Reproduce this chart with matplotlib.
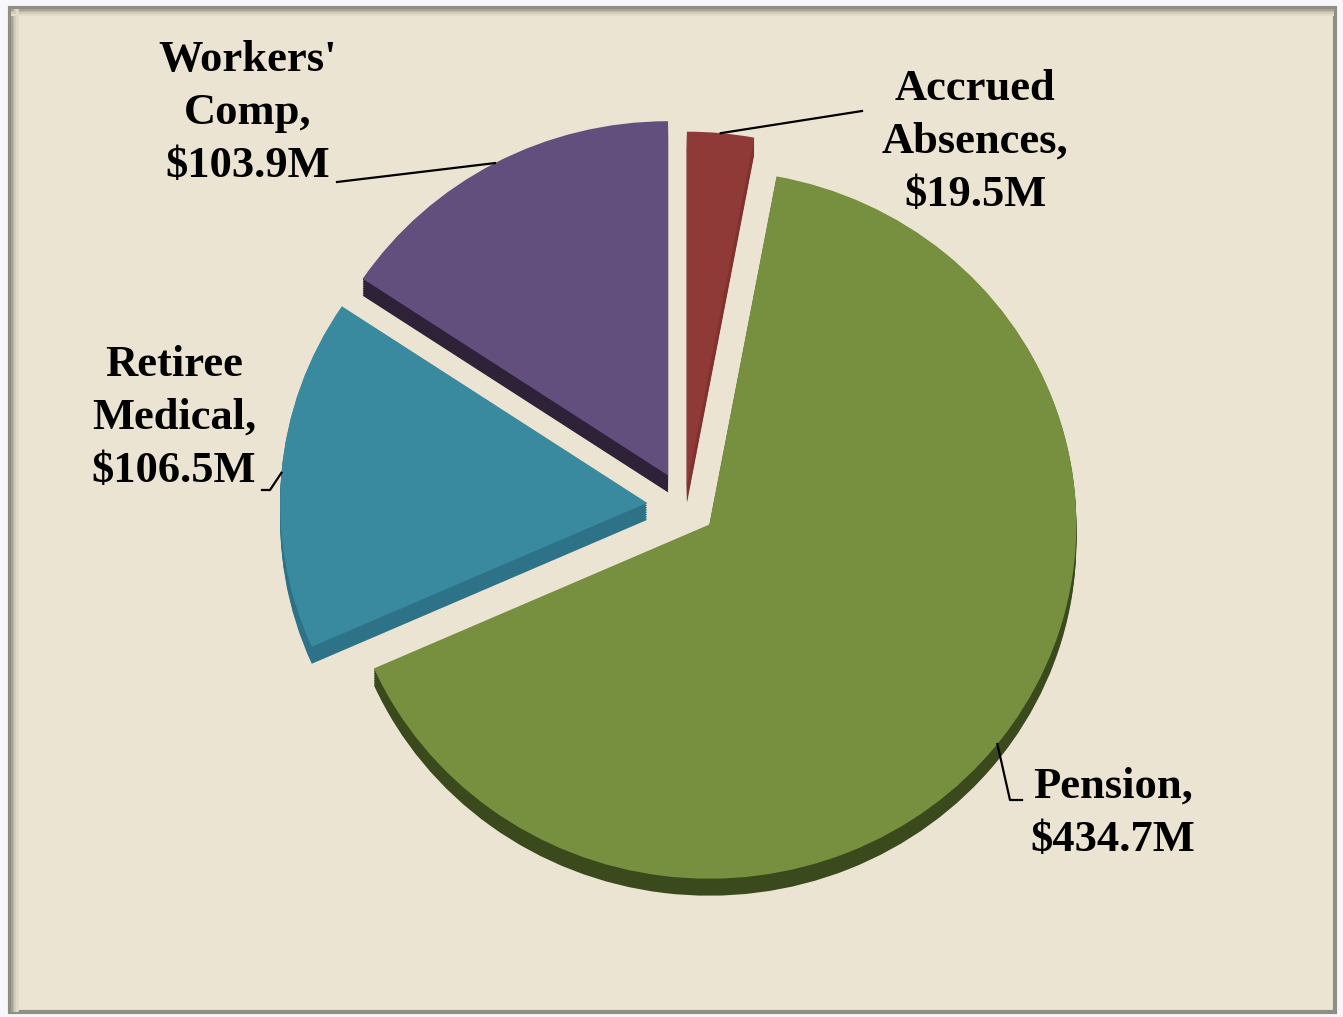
import numpy as np
import matplotlib.pyplot as plt
from matplotlib.patches import Wedge, Rectangle

# slices in drawing order (clockwise from 12 o'clock)
names = ['Accrued\nAbsences,', 'Pension,', 'Retiree\nMedical,', "Workers'\nComp,"]
values = [19.5, 434.7, 106.5, 103.9]
colors = ['#8f3a37', '#77903f', '#3a8a9f', '#634f7e']
side_colors = ['#80322f', '#3a4a1c', '#2d7287', '#2e2239']

W, H = 1343, 1017
k = 0.965  # slight vertical squash of the tilted pie


def d(px, py):
    # pixel position (top-left origin) -> data coords
    return px, (H - py) / k


fig = plt.figure(figsize=(W / 100, H / 100), dpi=100)
fig.patch.set_facecolor('#f7f7fb')
ax = fig.add_axes([0, 0, 1, 1])

# beige panel with a soft grey edge
x0, y0 = d(10, 1012)
x1, y1 = d(1335, 8)
ax.add_patch(Rectangle((x0, y0), x1 - x0, y1 - y0, facecolor='#ebe4d2',
                       edgecolor='#8f8e82', linewidth=3, zorder=0))
for i, c in enumerate(['#a6a497', '#bdbaa9', '#d2cdbb', '#e1dbc8']):
    ax.plot([x0 + 2 + i * 1.6] * 2, [y0 + 2, y1 - 2], color=c, lw=2, zorder=0.5)
    ax.plot([x0 + 2, x1 - 2], [y1 - (2 + i * 1.6) / k] * 2, color=c, lw=1.5, zorder=0.5)

radius = 367
explode = [21, 31, 38, 36]
wedges, _ = ax.pie(values, colors=colors, startangle=90, counterclock=False,
                   radius=radius, center=d(685, 506), explode=explode,
                   wedgeprops=dict(linewidth=0, zorder=2), frame=True)

# extruded sides
depth = 17 / k
for w, sc in zip(wedges, side_colors):
    cx, cy = w.center
    for t in np.linspace(1, depth, 10):
        ax.add_patch(Wedge((cx, cy - t), w.r, w.theta1, w.theta2,
                           facecolor=sc, linewidth=0, zorder=1))

label_text = [n + '\n$' + f'{v:.1f}M' for n, v in zip(names, values)]
label_pos = [(975, 142), (1113, 813), (174, 418), (248, 113)]
# leader lines: points after the arc anchor, in pixels
leaders = [[(862, 111)],
           [(1010, 800), (1022, 800)],
           [(270, 490), (262, 490)],
           [(337, 182)]]

for w, txt, pos, pts in zip(wedges, label_text, label_pos, leaders):
    tm = np.deg2rad((w.theta1 + w.theta2) / 2)
    ax_ = w.center[0] + w.r * np.cos(tm)
    ay_ = w.center[1] + w.r * np.sin(tm)
    xs = [ax_] + [d(*p)[0] for p in pts]
    ys = [ay_] + [d(*p)[1] for p in pts]
    ax.plot(xs, ys, color='black', lw=1.6, zorder=3)
    ax.text(*d(*pos), txt, ha='center', va='center', multialignment='center',
            fontsize=32, fontweight='bold', family='Liberation Serif',
            linespacing=1.43, zorder=4)

ax.set_xlim(0, W)
ax.set_ylim(0, H / k)
ax.set_aspect('auto')
ax.axis('off')

fig.savefig('out.png', dpi=100, facecolor=fig.get_facecolor())
